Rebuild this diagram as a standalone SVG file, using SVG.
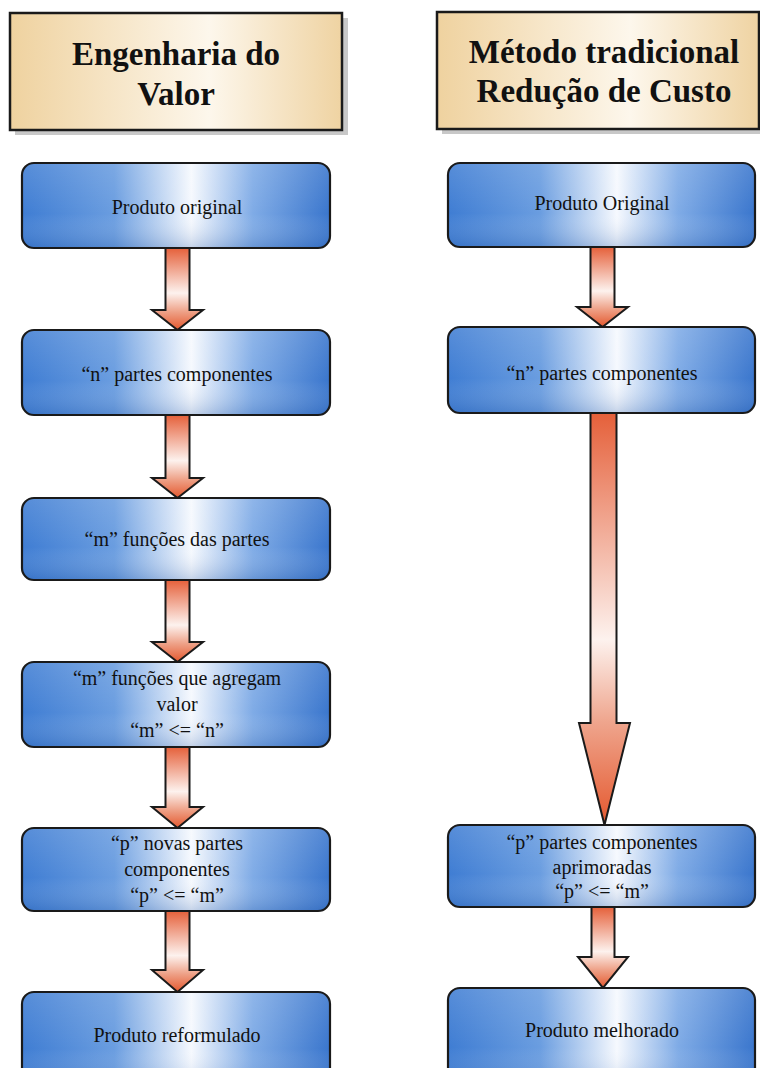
<svg xmlns="http://www.w3.org/2000/svg" width="760" height="1068" viewBox="0 0 760 1068">
<defs>
<linearGradient id="gBlue" x1="0" y1="0" x2="1" y2="0">
<stop offset="0" stop-color="#3f7dd3"/>
<stop offset="0.3" stop-color="#6a9de0"/>
<stop offset="0.55" stop-color="#f6f9fe"/>
<stop offset="0.75" stop-color="#7fabe6"/>
<stop offset="1" stop-color="#3a76cd"/>
</linearGradient>
<linearGradient id="gShade" x1="0" y1="0" x2="0" y2="1">
<stop offset="0" stop-color="#ffffff" stop-opacity="0.12"/>
<stop offset="0.6" stop-color="#ffffff" stop-opacity="0"/>
<stop offset="1" stop-color="#1d4f9c" stop-opacity="0.22"/>
</linearGradient>
<linearGradient id="gTan" x1="0" y1="0" x2="1" y2="0">
<stop offset="0" stop-color="#efd29f"/>
<stop offset="0.6" stop-color="#fdf7ec"/>
<stop offset="1" stop-color="#efd3a2"/>
</linearGradient>
<linearGradient id="gArrow" x1="0" y1="0" x2="0" y2="1">
<stop offset="0" stop-color="#e5603a"/>
<stop offset="0.55" stop-color="#fdf2ee"/>
<stop offset="0.78" stop-color="#eea086"/>
<stop offset="1" stop-color="#e4582e"/>
</linearGradient>
<linearGradient id="gArrowLong" x1="0" y1="0" x2="0" y2="1">
<stop offset="0" stop-color="#e5603a"/>
<stop offset="0.55" stop-color="#fdf2ee"/>
<stop offset="0.75" stop-color="#efa58d"/>
<stop offset="1" stop-color="#e4582e"/>
</linearGradient>
</defs>
<style>
.hdr{fill:url(#gTan);stroke:#1a1a1a;stroke-width:2.5}
.hsh{fill:#9a9a9a;opacity:0.55}
.node{fill:url(#gBlue);stroke:#1a1a1a;stroke-width:2.2}
.shade{fill:url(#gShade);stroke:none}
.arr{fill:url(#gArrow);stroke:#1a1a1a;stroke-width:2;stroke-linejoin:miter}
.arrl{fill:url(#gArrowLong);stroke:#1a1a1a;stroke-width:2;stroke-linejoin:miter}
text{font-family:"Liberation Serif","DejaVu Serif",serif}
.ht{font-weight:bold;font-size:33px;fill:#111;text-anchor:middle}
.t{font-size:20px;fill:#111;text-anchor:middle}
</style>
<rect width="760" height="1068" fill="#ffffff"/>

<g id="header-left">
<rect class="hsh" x="15" y="18" width="333" height="117"/>
<rect class="hdr" x="10" y="13" width="332" height="117"/>
<text class="ht" x="176" y="65">Engenharia do</text>
<text class="ht" x="176" y="105">Valor</text>
</g>
<g id="header-right">
<rect class="hsh" x="442" y="17" width="318" height="117"/>
<rect class="hdr" x="437" y="12" width="322" height="117"/>
<text class="ht" x="604" y="63">Método tradicional</text>
<text class="ht" x="604" y="102">Redução de Custo</text>
</g>

<g id="connectors">
<polygon class="arr" points="165.5,248 189.5,248 189.5,310 203,310 177.5,330 152,310 165.5,310"/>
<polygon class="arr" points="165.5,415 189.5,415 189.5,478 203,478 177.5,498 152,478 165.5,478"/>
<polygon class="arr" points="165.5,580 189.5,580 189.5,642 203,642 177.5,662 152,642 165.5,642"/>
<polygon class="arr" points="165.5,747 189.5,747 189.5,807 203,807 177.5,828 152,807 165.5,807"/>
<polygon class="arr" points="165.5,911 189.5,911 189.5,970 203,970 177.5,992 152,970 165.5,970"/>
<polygon class="arr" points="590.5,247 614.5,247 614.5,307 628,307 602.5,327 577,307 590.5,307"/>
<polygon class="arrl" points="590.5,413 616.5,413 616.5,723 630,723 604.5,825 579,723 590.5,723"/>
<polygon class="arr" points="591.5,907 614.5,907 614.5,957 628,957 603,988 578,957 591.5,957"/>
</g>

<g id="l1"><rect class="node" x="22" y="163" width="308" height="85" rx="12"/><rect class="shade" x="23" y="164" width="306" height="83" rx="11"/><text class="t" x="177" y="214">Produto original</text></g>
<g id="l2"><rect class="node" x="22" y="330" width="308" height="85" rx="12"/><rect class="shade" x="23" y="331" width="306" height="83" rx="11"/><text class="t" x="177" y="381">“n” partes componentes</text></g>
<g id="l3"><rect class="node" x="22" y="498" width="308" height="82" rx="12"/><rect class="shade" x="23" y="499" width="306" height="80" rx="11"/><text class="t" x="177" y="546">“m” funções das partes</text></g>
<g id="l4"><rect class="node" x="22" y="662" width="308" height="85" rx="12"/><rect class="shade" x="23" y="663" width="306" height="83" rx="11"/>
<text class="t" x="177" y="685">“m” funções que agregam</text><text class="t" x="177" y="711">valor</text><text class="t" x="177" y="737">“m” &lt;= “n”</text></g>
<g id="l5"><rect class="node" x="22" y="828" width="308" height="83" rx="12"/><rect class="shade" x="23" y="829" width="306" height="81" rx="11"/>
<text class="t" x="177" y="850">“p” novas partes</text><text class="t" x="177" y="876">componentes</text><text class="t" x="177" y="902">“p” &lt;= “m”</text></g>
<g id="l6"><rect class="node" x="22" y="992" width="308" height="95" rx="12"/><rect class="shade" x="23" y="993" width="306" height="93" rx="11"/><text class="t" x="177" y="1042">Produto reformulado</text></g>

<g id="r1"><rect class="node" x="448" y="163" width="307" height="84" rx="12"/><rect class="shade" x="449" y="164" width="305" height="82" rx="11"/><text class="t" x="602" y="210">Produto Original</text></g>
<g id="r2"><rect class="node" x="448" y="327" width="307" height="86" rx="12"/><rect class="shade" x="449" y="328" width="305" height="84" rx="11"/><text class="t" x="602" y="380">“n” partes componentes</text></g>
<g id="r5"><rect class="node" x="448" y="825" width="307" height="82" rx="12"/><rect class="shade" x="449" y="826" width="305" height="80" rx="11"/>
<text class="t" x="602" y="849">“p” partes componentes</text><text class="t" x="602" y="874">aprimoradas</text><text class="t" x="602" y="898">“p” &lt;= “m”</text></g>
<g id="r6"><rect class="node" x="448" y="988" width="307" height="99" rx="12"/><rect class="shade" x="449" y="989" width="305" height="97" rx="11"/><text class="t" x="602" y="1037">Produto melhorado</text></g>
</svg>
